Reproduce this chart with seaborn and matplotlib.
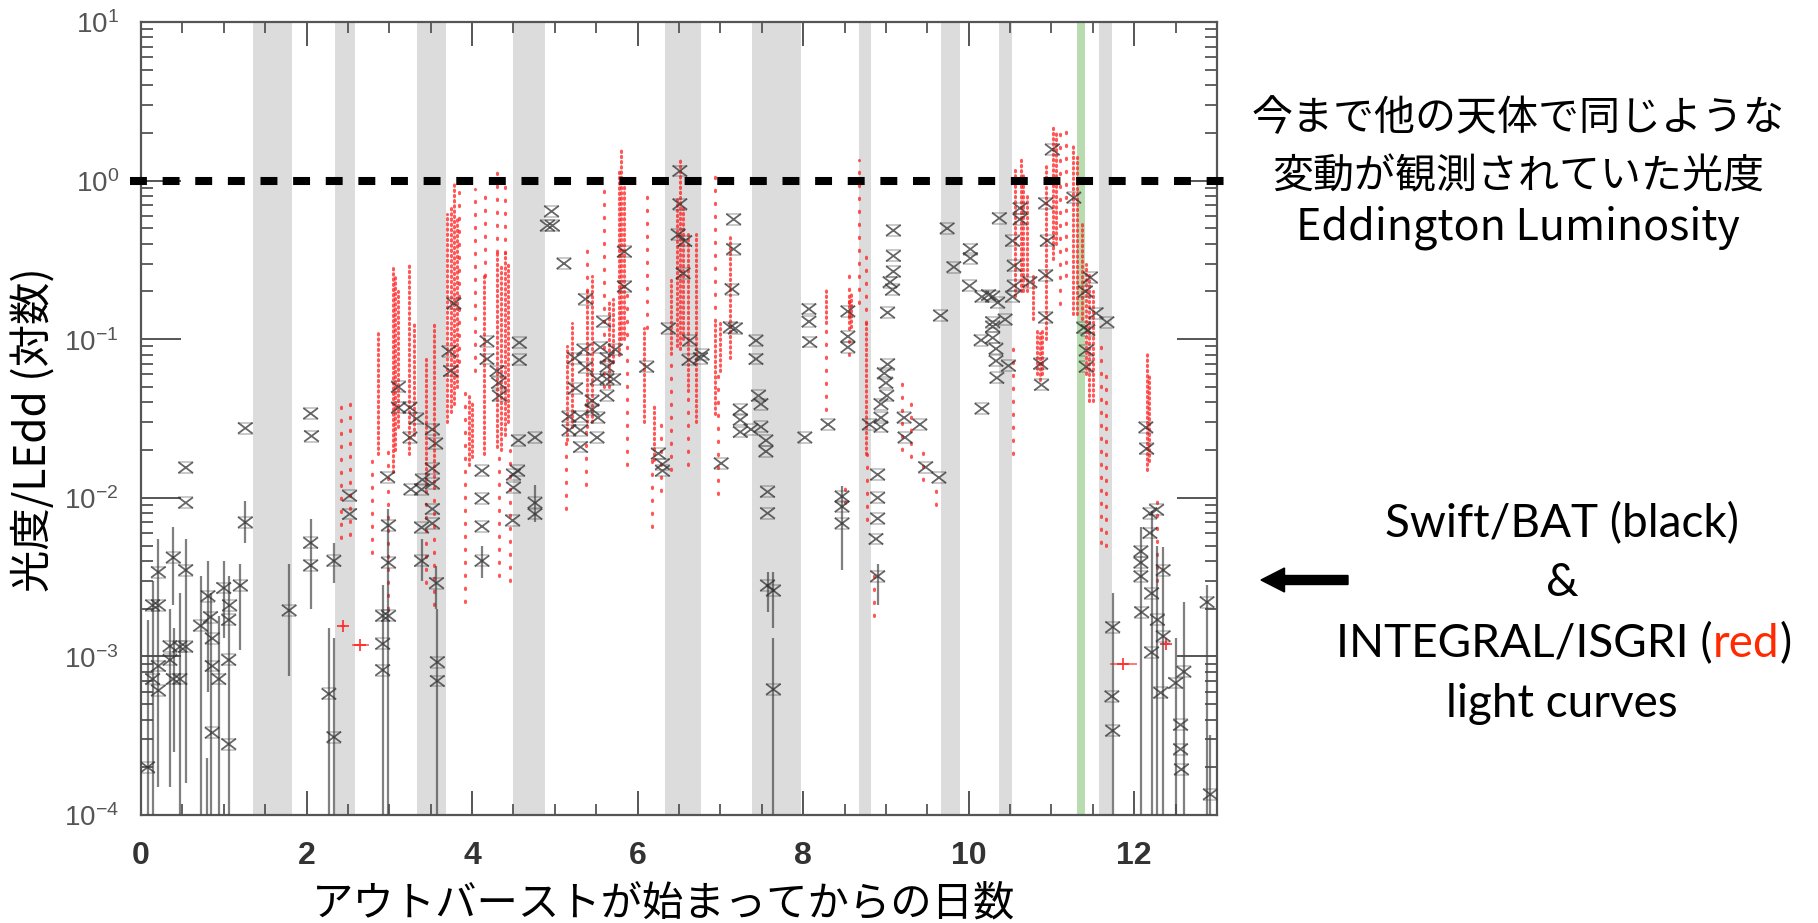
import matplotlib
matplotlib.use("Agg")
import numpy as np
import pandas as pd
import seaborn as sns
import matplotlib.pyplot as plt
from matplotlib.ticker import MultipleLocator, LogLocator, NullFormatter, FuncFormatter
from matplotlib.patches import FancyArrow
from matplotlib.path import Path
from matplotlib.transforms import IdentityTransform

# ---------------------------------------------------------------- data
# Swift/BAT points (days since outburst onset, L/LEdd)
bat_day = [0.08, 0.14, 0.14, 0.21, 0.21, 0.21, 0.21, 0.35, 0.35, 0.39, 0.39, 0.47, 0.47,
           0.54, 0.54, 0.54, 0.54, 0.72, 0.81, 0.84, 0.86, 0.86, 0.86, 0.94, 1.00, 1.07,
           1.06, 1.06, 1.06, 1.20, 1.26, 1.26, 1.79, 2.05, 2.06, 2.05, 2.05, 2.33, 2.27,
           2.33, 2.52, 2.52, 2.92, 2.92, 2.92, 2.99, 2.99, 2.99, 2.98, 3.11, 3.11, 3.25,
           3.25, 3.26, 3.33, 3.39, 3.39, 3.39, 3.40, 3.52, 3.56, 3.52, 3.52, 3.52, 3.52,
           3.57, 3.58, 3.58, 3.78, 3.72, 3.74, 4.18, 4.18, 4.30, 4.32, 4.33, 4.12, 4.12,
           4.12, 4.12, 4.57, 4.57, 4.56, 4.55, 4.50, 4.50, 4.49, 4.76, 4.76, 4.76, 4.96,
           4.91, 4.97, 5.11, 5.37, 5.24, 5.35, 5.37, 5.25, 5.17, 5.17, 5.31, 5.31, 5.31,
           5.45, 5.45, 5.52, 5.51, 5.51, 5.55, 5.59, 5.63, 5.63, 5.63, 5.63, 5.71, 5.73,
           5.84, 5.84, 6.11, 6.25, 6.30, 6.30, 6.37, 6.51, 6.51, 6.49, 6.57, 6.55, 6.63,
           6.62, 6.76, 6.78, 7.16, 7.16, 7.14, 7.12, 7.18, 7.01, 7.24, 7.24, 7.24, 7.37,
           7.43, 7.43, 7.46, 7.49, 7.49, 7.55, 7.55, 7.57, 7.57, 7.57, 7.64, 7.64, 8.02,
           8.07, 8.07, 8.08, 8.30, 8.54, 8.54, 8.54, 8.47, 8.47, 8.47, 8.80, 8.90, 8.90,
           8.90, 8.88, 8.90, 8.94, 8.94, 8.94, 8.98, 9.00, 9.01, 9.02, 9.02, 9.09, 9.09,
           9.09, 9.05, 9.08, 9.22, 9.23, 9.41, 9.48, 9.64, 9.74, 9.82, 9.66, 10.02, 10.02,
           10.01, 10.16, 10.15, 10.16, 10.24, 10.29, 10.29, 10.29, 10.29, 10.33, 10.33,
           10.34, 10.35, 10.37, 10.44, 10.48, 10.53, 10.53, 10.55, 10.55, 10.62, 10.62,
           10.74, 10.87, 10.88, 10.93, 10.95, 10.93, 10.93, 11.01, 11.27, 11.41, 11.44,
           11.42, 11.42, 11.47, 11.39, 11.54, 11.67, 12.14, 12.15, 12.19, 12.27, 12.19,
           12.08, 12.08, 12.08, 12.09, 11.74, 11.73, 11.74, 12.21, 12.28, 12.21, 12.35,
           12.32, 12.35, 12.50, 12.60, 12.56, 12.56, 12.57, 12.88, 12.92]
bat_lum = [2.0e-4, 2.1e-3, 7.2e-4, 3.4e-3, 2.1e-3, 8.7e-4, 6.1e-4, 1.16e-3, 9.5e-4, 4.2e-3,
           7.2e-4, 7.2e-4, 1.15e-3, 1.55e-2, 9.3e-3, 3.5e-3, 1.15e-3, 1.56e-3, 2.4e-3,
           1.77e-3, 1.3e-3, 8.7e-4, 3.3e-4, 7.2e-4, 2.7e-3, 2.1e-3, 1.7e-3, 9.5e-4, 2.8e-4,
           2.8e-3, 2.75e-2, 7.0e-3, 1.95e-3, 3.4e-2, 2.45e-2, 5.2e-3, 3.75e-3, 4.0e-3,
           5.8e-4, 3.1e-4, 1.03e-2, 7.9e-3, 1.8e-3, 1.2e-3, 8.2e-4, 1.8e-3, 3.9e-3, 6.7e-3,
           1.35e-2, 5.0e-2, 3.7e-2, 3.7e-2, 2.4e-2, 1.13e-2, 3.15e-2, 1.13e-2, 6.5e-3,
           4.0e-3, 1.3e-2, 2.7e-2, 2.2e-2, 1.53e-2, 1.23e-2, 8.5e-3, 6.9e-3, 2.9e-3, 9.2e-4,
           7.0e-4, 0.168, 0.084, 0.063, 0.097, 0.075, 0.063, 0.053, 0.044, 0.0148, 0.0099,
           0.0066, 0.0040, 0.095, 0.074, 0.023, 0.0148, 0.014, 0.0116, 0.0072, 0.024, 0.0093,
           0.0079, 0.64, 0.52, 0.52, 0.30, 0.179, 0.076, 0.086, 0.0665, 0.049, 0.0325,
           0.0267, 0.0325, 0.0267, 0.0209, 0.041, 0.036, 0.032, 0.024, 0.056, 0.089, 0.129,
           0.076, 0.067, 0.056, 0.044, 0.056, 0.086, 0.356, 0.215, 0.067, 0.019, 0.0163,
           0.0148, 0.117, 1.15, 0.71, 0.457, 0.416, 0.26, 0.098, 0.074, 0.076, 0.080, 0.57,
           0.37, 0.207, 0.119, 0.117, 0.0165, 0.036, 0.031, 0.026, 0.027, 0.098, 0.075,
           0.044, 0.039, 0.028, 0.023, 0.0196, 0.0109, 0.0080, 0.0028, 0.0026, 6.2e-4,
           0.024, 0.155, 0.129, 0.096, 0.029, 0.150, 0.104, 0.089, 0.0102, 0.0088, 0.0069,
           0.029, 0.014, 0.010, 0.0074, 0.0055, 0.0032, 0.039, 0.032, 0.028, 0.061, 0.053,
           0.044, 0.0695, 0.147, 0.485, 0.335, 0.267, 0.229, 0.205, 0.032, 0.024, 0.029,
           0.0156, 0.0134, 0.50, 0.285, 0.141, 0.37, 0.324, 0.217, 0.185, 0.0986, 0.0365,
           0.19, 0.186, 0.128, 0.12, 0.102, 0.087, 0.073, 0.057, 0.17, 0.58, 0.133, 0.068,
           0.185, 0.417, 0.29, 0.217, 0.67, 0.57, 0.229, 0.070, 0.0515, 0.72, 0.417, 0.253,
           0.137, 1.57, 0.78, 0.20, 0.114, 0.085, 0.067, 0.245, 0.118, 0.146, 0.128, 0.0278,
           0.0204, 0.008, 0.0084, 0.006, 0.0046, 0.0039, 0.0032, 0.0019, 0.00153, 0.00056,
           0.00034, 0.0025, 0.0017, 0.00106, 0.0035, 0.00059, 0.00134, 0.00068, 0.0008,
           0.00037, 0.00026, 0.000194, 0.0022, 0.000135]

# Swift/BAT 1-sigma ranges
err_day = [0.08, 0.14, 0.21, 0.35, 0.39, 0.40, 0.47, 0.54, 0.72, 0.81, 0.80, 0.85, 0.94,
           1.00, 1.06, 1.20, 1.26, 1.79, 2.05, 2.27, 2.33, 2.33, 2.92, 2.99, 3.39, 3.57,
           3.58, 4.12, 4.76, 7.57, 7.64, 7.64, 8.47, 8.90, 11.74, 12.08, 12.21, 12.28,
           12.35, 12.50, 12.60, 12.88, 12.92]
err_lo = [1e-5, 1e-5, 1.5e-4, 1.5e-4, 2.1e-3, 2.5e-4, 1e-5, 1.6e-4, 1e-5, 6e-4, 1e-5, 1e-5,
          1e-5, 1.3e-3, 1e-5, 1.1e-3, 5.2e-3, 7.5e-4, 2.0e-3, 1e-5, 2.9e-3, 1e-5, 1e-5,
          1e-5, 3.0e-3, 2.0e-3, 1e-5, 3.1e-3, 7.0e-3, 1.9e-3, 1.5e-3, 1e-5, 3.5e-3, 2.1e-3,
          1e-5, 1e-5, 1e-5, 1e-5, 1e-5, 1e-5, 1e-5, 1e-5, 1e-5]
err_hi = [1.7e-3, 3.0e-3, 5.5e-3, 2.0e-3, 6.5e-3, 1.5e-3, 2.5e-3, 5.5e-3, 3.2e-3, 4e-3,
          2.3e-4, 2.5e-3, 1.8e-3, 4e-3, 3.2e-3, 3.8e-3, 9.5e-3, 3.8e-3, 7.3e-3, 1.5e-3,
          5.2e-3, 1.3e-3, 2.8e-3, 8.5e-3, 5.5e-3, 3.7e-3, 2.0e-3, 5.0e-3, 1.2e-2, 3.4e-3,
          3.4e-3, 1.3e-3, 1.18e-2, 3.8e-3, 2.5e-3, 6.5e-3, 8.3e-3, 5.0e-3, 4.9e-3, 1.3e-3,
          2.2e-3, 2.8e-3, 3.2e-4]

# INTEGRAL/ISGRI: ranges covered by densely sampled stretches
isgri_dense_day = [2.86, 3.04, 3.07, 3.10, 3.24, 3.30, 3.44, 3.54, 3.70, 3.74, 3.78, 3.82,
                   3.96, 4.00, 4.15, 4.30, 4.35, 4.40, 4.44, 5.15, 5.21, 5.39, 5.45, 5.66,
                   5.70, 5.77, 5.80, 5.84, 6.08, 6.20, 6.40, 6.47, 6.51, 6.55, 6.61, 6.70,
                   6.93, 6.99, 7.12, 8.27, 8.55, 8.58, 8.76, 10.56, 10.63, 10.66, 10.70,
                   10.78, 10.83, 10.86, 10.89, 10.94, 11.02, 11.06, 11.26, 11.31, 11.37,
                   11.42, 11.45, 11.50, 12.15, 12.18]
isgri_dense_lo = [0.019, 0.0145, 0.02, 0.028, 0.019, 0.025, 0.012, 0.0126, 0.030, 0.035,
                  0.039, 0.05, 0.016, 0.018, 0.019, 0.021, 0.02, 0.025, 0.03, 0.023, 0.028,
                  0.028, 0.030, 0.05, 0.072, 0.08, 0.10, 0.10, 0.030, 0.0174, 0.081, 0.09,
                  0.087, 0.10, 0.047, 0.030, 0.034, 0.063, 0.076, 0.126, 0.126, 0.12, 0.019,
                  0.186, 0.20, 0.2, 0.20, 0.135, 0.06, 0.055, 0.06, 0.10, 0.32, 0.4, 0.145,
                  0.145, 0.135, 0.06, 0.041, 0.041, 0.015, 0.017]
isgri_dense_hi = [0.115, 0.29, 0.25, 0.20, 0.30, 0.126, 0.076, 0.126, 0.62, 0.7, 0.95, 0.6,
                  0.044, 0.04, 0.25, 0.355, 0.3, 0.35, 0.3, 0.091, 0.126, 0.20, 0.25, 0.18,
                  0.18, 1.2, 1.6, 1.0, 0.117, 0.039, 0.245, 0.8, 1.38, 0.7, 0.46, 0.46, 0.13,
                  0.126, 0.46, 0.21, 0.19, 0.2, 0.126, 1.2, 1.4, 1.1, 0.8, 0.26, 0.117, 0.11,
                  0.117, 1.3, 2.2, 2.0, 1.66, 1.4, 0.54, 0.3, 0.26, 0.2, 0.081, 0.06]

# INTEGRAL/ISGRI: ranges covered by sparsely sampled stretches
isgri_sparse_day = [2.42, 2.52, 2.79, 2.98, 3.44, 3.54, 3.84, 3.91, 4.04, 4.16, 4.30, 4.40,
                    4.33, 4.46, 5.14, 5.39, 5.38, 5.59, 5.87, 6.11, 6.17, 6.28, 6.40, 6.61,
                    6.93, 6.97, 8.27, 8.55, 8.67, 8.76, 8.77, 8.86, 8.50, 9.20, 9.30, 9.45,
                    9.60, 10.53, 11.10, 11.17, 11.60, 11.66, 12.27]
isgri_sparse_lo = [0.0056, 0.0058, 0.0045, 0.002, 0.0029, 0.0021, 0.072, 0.0022, 0.063,
                   0.25, 0.355, 0.35, 0.0032, 0.003, 0.0085, 0.2, 0.012, 0.05, 0.016, 0.117,
                   0.0065, 0.011, 0.015, 0.016, 0.13, 0.0105, 0.036, 0.08, 0.17, 0.126,
                   0.0072, 0.0018, 0.0093, 0.02, 0.018, 0.013, 0.009, 0.019, 0.166, 0.25,
                   0.0052, 0.005, 0.003]
isgri_sparse_hi = [0.042, 0.044, 0.019, 0.021, 0.012, 0.0126, 0.85, 0.05, 0.89, 0.89, 1.15,
                   1.0, 0.021, 0.02, 0.023, 0.38, 0.028, 0.9, 0.2, 0.9, 0.0174, 0.03, 0.081,
                   0.047, 1.1, 0.063, 0.126, 0.28, 1.35, 0.34, 0.019, 0.0035, 0.0126, 0.055,
                   0.04, 0.02, 0.013, 0.098, 2.0, 2.1, 0.091, 0.06, 0.01]

# INTEGRAL/ISGRI long-integration points with time bins
isgri_pt_day = [2.44, 2.65, 11.87, 12.38]
isgri_pt_lum = [0.00155, 0.00118, 0.0009, 0.0012]
isgri_pt_halfbin = [0.02, 0.105, 0.165, 0.035]

# observation gaps and the flare interval
gap_start = [1.35, 2.34, 3.33, 4.49, 6.33, 7.38, 8.67, 9.66, 10.37, 11.57]
gap_end = [1.82, 2.59, 3.68, 4.88, 6.77, 7.97, 8.82, 9.89, 10.52, 11.73]
flare_start, flare_end = 11.31, 11.41

eddington_level = 1.0
x_ticks = [0, 2, 4, 6, 8, 10, 12]

# ---------------------------------------------------------------- style
sns.set_theme(style="white")
plt.rcParams["font.family"] = ["Noto Sans CJK JP", "DejaVu Sans"]
plt.rcParams["mathtext.fontset"] = "custom"
plt.rcParams["mathtext.rm"] = "Liberation Sans"
plt.rcParams["mathtext.it"] = "Liberation Sans"
plt.rcParams["mathtext.bf"] = "Liberation Sans:bold"

W, H = 1818, 923
fig = plt.figure(figsize=(W / 100, H / 100), dpi=100)
ax = fig.add_axes([141 / W, 1 - 815 / H, (1217 - 141) / W, (815 - 22) / H])
ax.set_facecolor("white")
ax.set_yscale("log")
ax.set_xlim(0, 13)
ax.set_ylim(1e-4, 10)

for s, e in zip(gap_start, gap_end):
    ax.axvspan(s, e, color="#dcdcdc", lw=0, zorder=0)
ax.axvspan(flare_start, flare_end, color="#b8dcb0", lw=0, zorder=0)

# ISGRI light curve
red = "#ff1f1f"
dense = ax.vlines(isgri_dense_day, isgri_dense_lo, isgri_dense_hi, colors=red,
                  linewidth=2.2, linestyles=[(0, (0.45, 1.25))], alpha=0.75, zorder=2)
dense.set_capstyle("round")
sparse = ax.vlines(isgri_sparse_day, isgri_sparse_lo, isgri_sparse_hi, colors=red,
                   linewidth=2.2, linestyles=[(0, (0.45, 3.8))], alpha=0.75, zorder=2)
sparse.set_capstyle("round")
ax.hlines(isgri_pt_lum, np.array(isgri_pt_day) - np.array(isgri_pt_halfbin),
          np.array(isgri_pt_day) + np.array(isgri_pt_halfbin), colors=red, lw=1.2,
          alpha=0.7, zorder=2)
isgri_pts = pd.DataFrame({"day": isgri_pt_day, "lum": isgri_pt_lum})
sns.scatterplot(data=isgri_pts, x="day", y="lum", marker="+", s=70, color=red,
                linewidth=1.4, alpha=0.8, ax=ax, zorder=3, legend=False)

# BAT light curve: cross symbol with faint bin caps
ax.vlines(err_day, err_lo, err_hi, colors="#4a4a4a", lw=1.6, alpha=0.7, zorder=3)
bat = pd.DataFrame({"day": bat_day, "lum": bat_lum})
caps = Path([(-1, 0.75), (1, 0.75), (-1, -0.75), (1, -0.75)],
            [Path.MOVETO, Path.LINETO, Path.MOVETO, Path.LINETO])
cross = Path([(-1, 0.75), (1, -0.75), (-1, -0.75), (1, 0.75)],
             [Path.MOVETO, Path.LINETO, Path.MOVETO, Path.LINETO])
sns.scatterplot(data=bat, x="day", y="lum", marker=caps, s=110,
                facecolor="none", edgecolor="#3a3a3a", linewidth=1.1, alpha=0.35,
                ax=ax, zorder=4, legend=False)
sns.scatterplot(data=bat, x="day", y="lum", marker=cross, s=110,
                facecolor="none", edgecolor="#333333", linewidth=1.3, alpha=0.75,
                ax=ax, zorder=4, legend=False)

# Eddington luminosity
ax.plot([-0.13, 13.16], [eddington_level, eddington_level], color="black", lw=5.8,
        dashes=(2.1, 1.95), dash_capstyle="butt", clip_on=False, zorder=6)

# axes frame and ticks
for sp in ax.spines.values():
    sp.set_color("#555555")
    sp.set_linewidth(1.6)
ax.xaxis.set_major_locator(MultipleLocator(2))
ax.xaxis.set_minor_locator(MultipleLocator(0.5))
ax.set_xticks(x_ticks)
ax.yaxis.set_major_locator(LogLocator(base=10, numticks=12))
ax.yaxis.set_minor_locator(LogLocator(base=10, subs=np.arange(2, 10), numticks=12))
ax.yaxis.set_minor_formatter(NullFormatter())
ax.yaxis.set_major_formatter(FuncFormatter(lambda v, p: r"$\mathrm{10^{%d}}$" % round(np.log10(v))))
ax.tick_params(axis="x", which="major", direction="in", length=17, width=1.4,
               top=True, bottom=True, color="#555555", pad=19, labelsize=23,
               labelcolor="#333333")
ax.tick_params(axis="x", which="minor", direction="in", length=8, width=1.3,
               top=True, bottom=True, color="#555555")
ax.tick_params(axis="y", which="major", direction="in", length=29, width=1.4,
               left=True, right=True, color="#555555", pad=16, labelsize=20,
               labelcolor="#555555")
ax.tick_params(axis="y", which="minor", direction="in", length=8.5, width=1.3,
               left=True, right=True, color="#555555")
for lbl in ax.get_xticklabels():
    lbl.set_fontfamily("Liberation Sans")
    lbl.set_fontweight("bold")
ax.grid(False)

ax.set_xlabel("アウトバーストが始まってからの日数", fontsize=29.8, color="black", va="center")
ax.xaxis.set_label_coords((664 - 141) / 1076, (815 - 904) / 793)
ax.set_ylabel("光度/LEdd (対数)", fontsize=30.5, color="black", va="center")
ax.yaxis.set_label_coords((35 - 141) / 1076, (815 - 430) / 793)

# annotations on the right
for txt, yy, fs in [("今まで他の天体で同じような", 119, 29.5), ("変動が観測されていた光度", 177, 29.5),
                    ("Eddington Luminosity", 228, 31)]:
    fig.text(1518 / W, 1 - yy / H, txt, ha="center", va="center", fontsize=fs,
             color="black")

renderer = fig.canvas.get_renderer()


def centered_runs(cx, cy, runs, **kw):
    texts = [fig.text(0, 1 - cy / H, s, color=c, ha="left", va="center", **kw)
             for s, c in runs]
    widths = [t.get_window_extent(renderer).width for t in texts]
    x = cx - sum(widths) / 2
    for t, w in zip(texts, widths):
        t.set_x(x / W)
        x += w


label_font = dict(fontsize=33, family=["Lato", "DejaVu Sans"])
centered_runs(1562, 524, [("Swift/BAT (black)", "black")], **label_font)
centered_runs(1562, 583, [("&", "black")], **label_font)
centered_runs(1564, 644, [("INTEGRAL/ISGRI (", "black"), ("red", "#ff2a00"), (")", "black")],
              **label_font)
centered_runs(1562, 704, [("light curves", "black")], **label_font)

fig.add_artist(FancyArrow(1348, H - 580, -87, 0, width=9, head_width=24, head_length=23.5,
                          length_includes_head=True, color="black",
                          transform=IdentityTransform()))

fig.savefig("out.png", dpi=100)
